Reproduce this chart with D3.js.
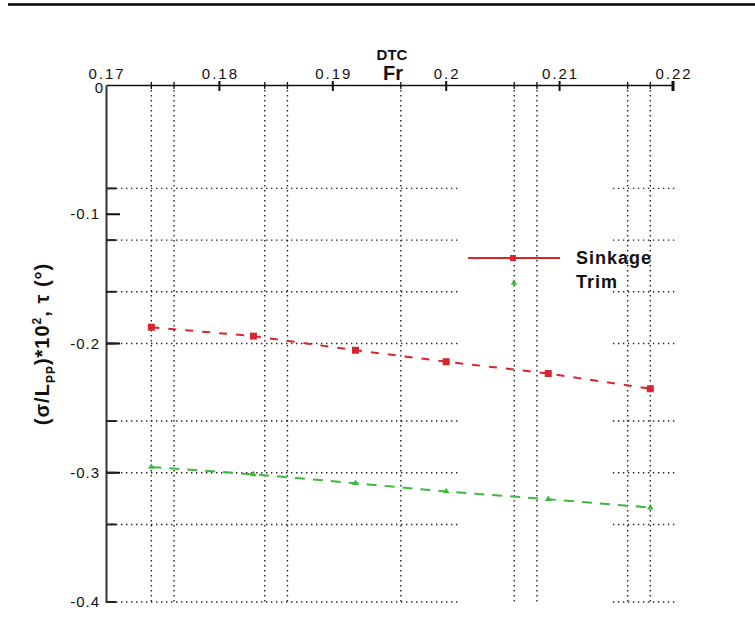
<!DOCTYPE html>
<html>
<head>
<meta charset="utf-8">
<script src="https://cdn.jsdelivr.net/npm/d3@7"></script>
<style>
  body { margin: 0; background: #fff; }
  text { font-family: "Liberation Sans", Arial, sans-serif; }
  .tick-lbl { font-size: 15px; fill: #111; }
  .ttl { font-weight: bold; fill: #111; }
</style>
</head>
<body>
<svg id="chart"></svg>
<script>
const w = 755;
const h = 619;

// data
const fr = [0.174, 0.183, 0.192, 0.200, 0.209, 0.218];
const sinkage = [-0.1874, -0.1943, -0.2052, -0.2141, -0.2232, -0.2350];
const trim = [-0.2955, -0.3012, -0.3081, -0.3145, -0.3205, -0.3269];
const seriesNames = ["Sinkage", "Trim"];

const xTicks = [0.17, 0.18, 0.19, 0.2, 0.21, 0.22];
const xTickLabels = ["0.17", "0.18", "0.19", "0.2", "0.21", "0.22"];
const xGrid = [0.174, 0.176, 0.184, 0.186, 0.196, 0.206, 0.208, 0.216, 0.218];
const yTicks = [0, -0.1, -0.2, -0.3, -0.4];
const yTickLabels = ["0", "-0.1", "-0.2", "-0.3", "-0.4"];
const yGrid = [-0.08, -0.12, -0.16, -0.2, -0.26, -0.3, -0.34, -0.4];

const svg = d3.select("#chart")
              .attr("width", w)
              .attr("height", h)

const x = d3.scaleLinear().domain([0.17, 0.22]).range([106, 673]);
const y = d3.scaleLinear().domain([0, -0.4]).range([85, 602]);

const red = "#d8262e";
const green = "#3cb83c";

// top rule
svg.append("line")
   .attr("x1", 8).attr("x2", w)
   .attr("y1", 4.5).attr("y2", 4.5)
   .attr("stroke", "#000")
   .attr("stroke-width", 2.5);

// grid
const grid = svg.append("g")
                .attr("stroke", "#222")
                .attr("stroke-width", 1.4)
                .attr("stroke-dasharray", "1.4,3.6");

grid.selectAll("vgrid")
    .data(xGrid)
    .enter()
    .append("line")
    .attr("x1", d => x(d)).attr("x2", d => x(d))
    .attr("y1", y(0)).attr("y2", y(-0.4));

// horizontal grid broken round the legend column
[[0.17, 0.2013], [0.2147, 0.2203]].forEach(seg => {
  grid.selectAll("hgrid")
      .data(yGrid)
      .enter()
      .append("line")
      .attr("x1", x(seg[0])).attr("x2", x(seg[1]))
      .attr("y1", d => y(d)).attr("y2", d => y(d));
});

// axes
svg.append("g")
   .attr("transform", "translate(0," + y(0) + ")")
   .call(d3.axisTop(x).tickValues([]).tickSizeOuter(0))
   .call(g => g.select(".domain").attr("stroke", "#111").attr("stroke-width", 1.5));

svg.append("g")
   .attr("transform", "translate(" + x(0.17) + ",0)")
   .call(d3.axisLeft(y).tickValues([]).tickSizeOuter(0))
   .call(g => g.select(".domain").attr("stroke", "#333").attr("stroke-width", 2));

// x ticks (cross the axis line)
svg.selectAll("xmaj")
   .data(xTicks.slice(1))
   .enter()
   .append("line")
   .attr("x1", d => x(d)).attr("x2", d => x(d))
   .attr("y1", y(0) - 4).attr("y2", y(0) + 6)
   .attr("stroke", "#111")
   .attr("stroke-width", (d, i) => i == 4 ? 3 : 2);

svg.selectAll("xmin")
   .data(xGrid)
   .enter()
   .append("line")
   .attr("x1", d => x(d)).attr("x2", d => x(d))
   .attr("y1", y(0) - 3).attr("y2", y(0) + 4)
   .attr("stroke", "#111")
   .attr("stroke-width", 1.3);

svg.selectAll("xlbl")
   .data(xTicks)
   .enter()
   .append("text")
   .attr("class", "tick-lbl")
   .attr("x", d => x(d) + 1)
   .attr("y", 79)
   .attr("text-anchor", "middle")
   .style("letter-spacing", "2px")
   .text((d, i) => xTickLabels[i]);

// y ticks
svg.selectAll("ymaj")
   .data(yTicks.slice(1, 4))
   .enter()
   .append("line")
   .attr("x1", x(0.17)).attr("x2", x(0.17) + 14)
   .attr("y1", d => y(d)).attr("y2", d => y(d))
   .attr("stroke", "#111")
   .attr("stroke-width", 2);

svg.selectAll("ymin")
   .data(yGrid)
   .enter()
   .append("line")
   .attr("x1", x(0.17)).attr("x2", x(0.17) + 10)
   .attr("y1", d => y(d)).attr("y2", d => y(d))
   .attr("stroke", "#222")
   .attr("stroke-width", 2);

svg.selectAll("ylbl")
   .data(yTicks)
   .enter()
   .append("text")
   .attr("class", "tick-lbl")
   .attr("x", (d, i) => i == 0 ? 104 : 100)
   .attr("y", (d, i) => i == 0 ? y(d) + 8 : y(d) + 5)
   .attr("text-anchor", "end")
   .style("letter-spacing", "1px")
   .text((d, i) => yTickLabels[i]);

// titles
svg.append("text")
   .attr("class", "ttl")
   .attr("x", 392).attr("y", 60)
   .attr("text-anchor", "middle")
   .style("font-size", "15px")
   .text("DTC");

svg.append("text")
   .attr("class", "ttl")
   .attr("x", 393).attr("y", 80)
   .attr("text-anchor", "middle")
   .style("font-size", "20px")
   .text("Fr");

const yt = svg.append("text")
              .attr("class", "ttl")
              .attr("transform", "translate(49,344) rotate(-90)")
              .attr("text-anchor", "middle")
              .style("font-size", "20px")
              .style("letter-spacing", "1px");
yt.append("tspan").text("(σ/L");
yt.append("tspan").attr("dy", 6).style("font-size", "12px").text("PP");
yt.append("tspan").attr("dy", -6).text(")*10");
yt.append("tspan").attr("dy", -8).style("font-size", "12px").text("2");
yt.append("tspan").attr("dy", 8).text(",  τ (°)");

// series
const line = d3.line()
               .x(d => x(d[0]))
               .y(d => y(d[1]));

const sData = fr.map((f, i) => [f, sinkage[i]]);
const tData = fr.map((f, i) => [f, trim[i]]);

svg.append("path")
   .datum(sData)
   .attr("d", line)
   .attr("fill", "none")
   .attr("stroke", red)
   .attr("stroke-width", 2)
   .attr("stroke-dasharray", "8,9");

svg.append("path")
   .datum(tData)
   .attr("d", line)
   .attr("fill", "none")
   .attr("stroke", green)
   .attr("stroke-width", 2)
   .attr("stroke-dasharray", "10,8");

svg.selectAll("sq")
   .data(sData)
   .enter()
   .append("rect")
   .attr("x", d => x(d[0]) - 3.5)
   .attr("y", d => y(d[1]) - 3.5)
   .attr("width", 7).attr("height", 7)
   .attr("fill", red);

const tri = d3.symbol().type(d3.symbolTriangle).size(18);
svg.selectAll("tr")
   .data(tData)
   .enter()
   .append("path")
   .attr("transform", d => "translate(" + x(d[0]) + "," + y(d[1]) + ")")
   .attr("d", tri)
   .attr("fill", green);

// legend
svg.append("line")
   .attr("x1", 468).attr("x2", 560)
   .attr("y1", 258).attr("y2", 258)
   .attr("stroke", red)
   .attr("stroke-width", 2);
svg.append("rect")
   .attr("x", 510).attr("y", 255)
   .attr("width", 6).attr("height", 6)
   .attr("fill", red);
svg.append("path")
   .attr("transform", "translate(514,283)")
   .attr("d", tri)
   .attr("fill", green);

svg.selectAll("leg")
   .data(seriesNames)
   .enter()
   .append("text")
   .attr("class", "ttl")
   .attr("x", 576)
   .attr("y", (d, i) => 264 + i * 24)
   .style("font-size", "18px")
   .style("letter-spacing", "1px")
   .text(d => d);
</script>
</body>
</html>
